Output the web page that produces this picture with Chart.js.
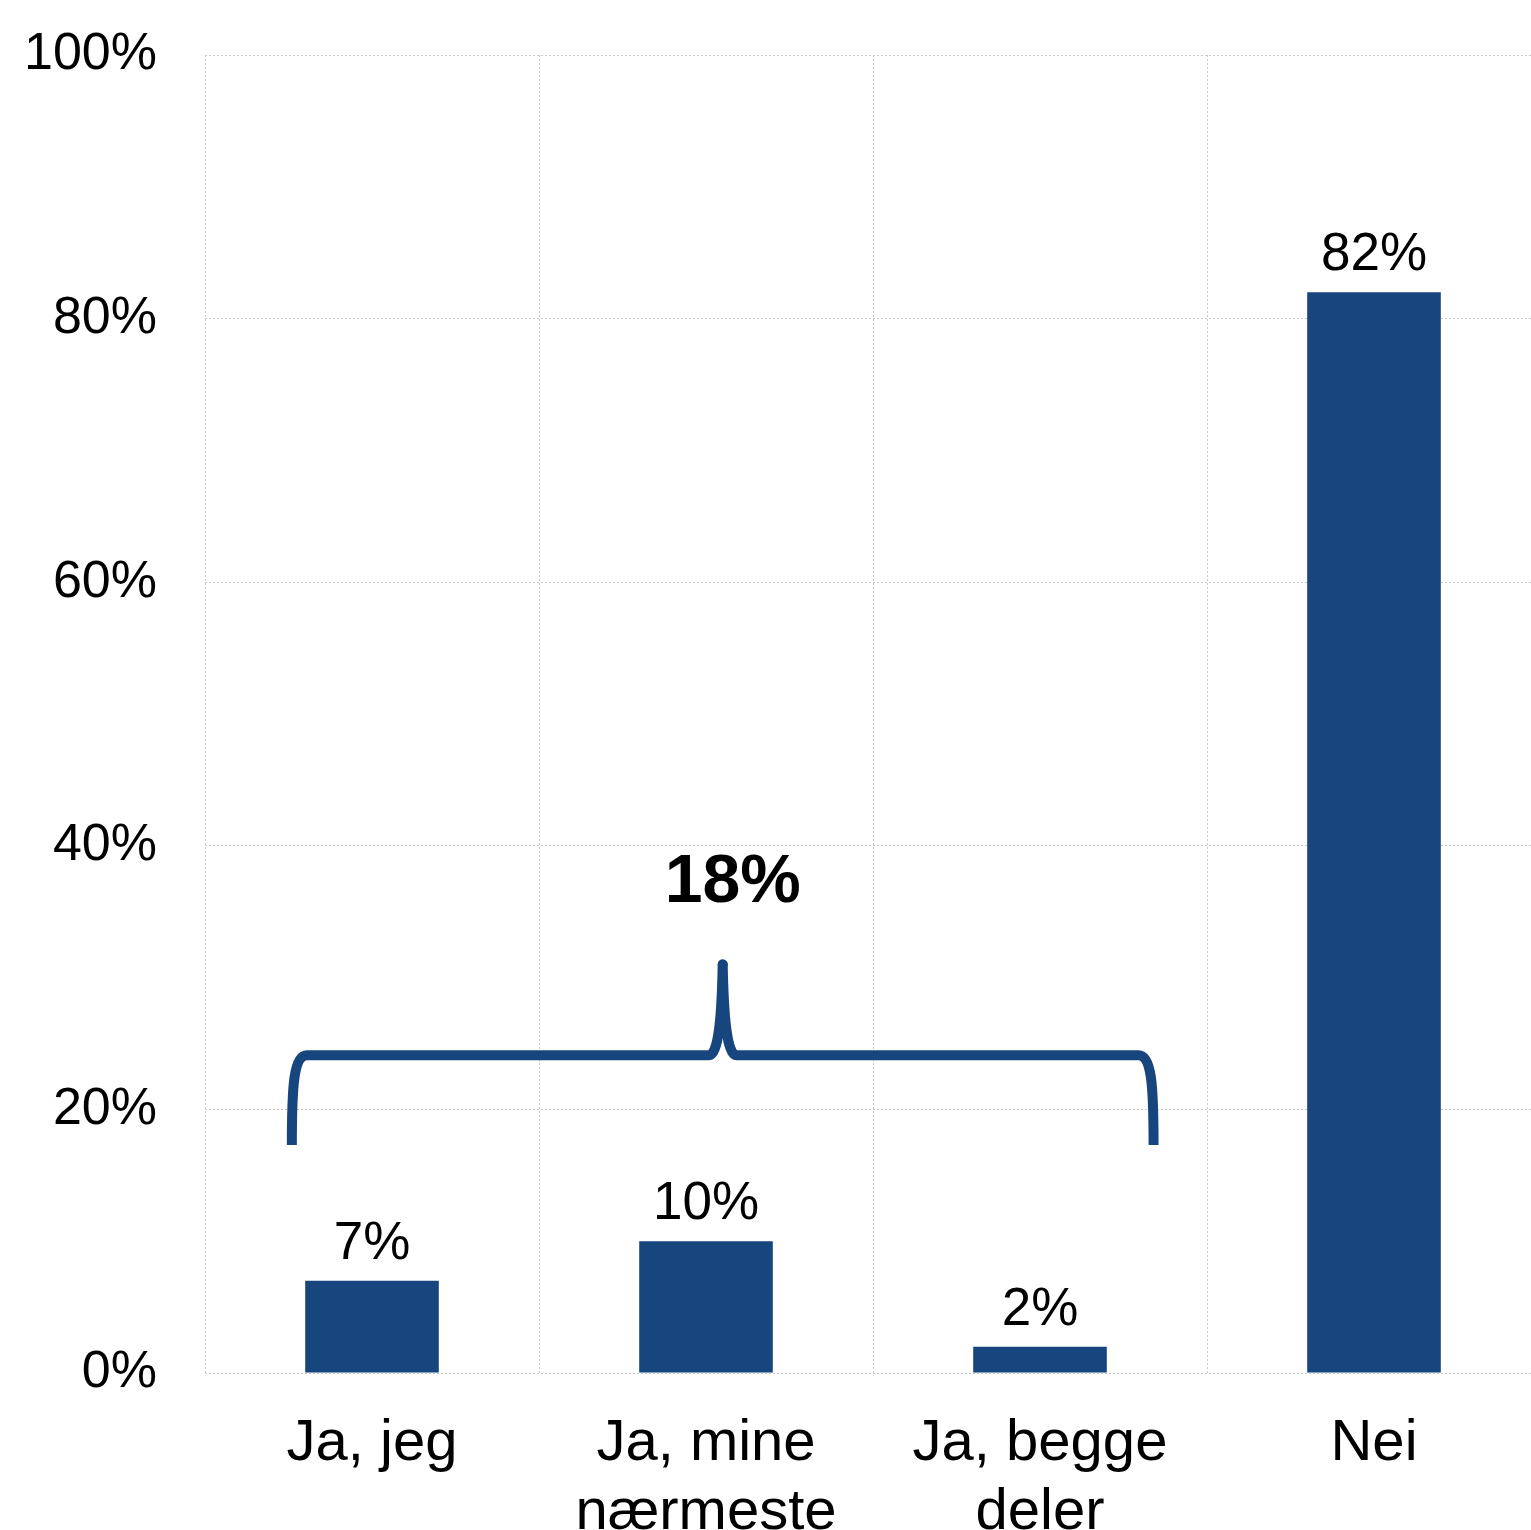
<!DOCTYPE html>
<html>
<head>
<meta charset="utf-8">
<script src="https://cdn.jsdelivr.net/npm/chart.js@4.4.1/dist/chart.umd.min.js"></script>
<style>
  html, body { margin: 0; padding: 0; background: #fff; overflow: hidden; }
  #wrap { position: relative; width: 1541px; height: 1560px; }
</style>
</head>
<body>
<div id="wrap"><canvas id="svar"></canvas></div>
<script>
const categories = [['Ja, jeg'], ['Ja, mine', 'nærmeste'], ['Ja, begge', 'deler'], ['Nei']];
const shares = [7, 10, 2, 82];
const yTicks = [0, 20, 40, 60, 80, 100];
const groupTotal = 18;          // sum of the three "Ja" answers
const groupMembers = [0, 1, 2]; // bars covered by the brace

const FONT = "'Liberation Sans', Arial, sans-serif";
const BLUE = '#17457d';

// percent labels above every bar
const barLabels = {
  id: 'barLabels',
  afterDatasetsDraw(chart) {
    const ctx = chart.ctx;
    ctx.save();
    ctx.font = `53px ${FONT}`;
    ctx.fillStyle = '#000';
    ctx.textAlign = 'center';
    ctx.textBaseline = 'alphabetic';
    chart.getDatasetMeta(0).data.forEach((bar, i) => {
      ctx.fillText(shares[i] + '%', bar.x, bar.y - 22);
    });
    ctx.restore();
  }
};

// curly brace over the "Ja" bars with the combined share
const groupBrace = {
  id: 'groupBrace',
  afterDatasetsDraw(chart) {
    const { ctx, scales: { x, y } } = chart;
    const step = x.getPixelForValue(1) - x.getPixelForValue(0);
    const first = groupMembers[0], last = groupMembers[groupMembers.length - 1];
    const left = x.getPixelForValue(first) - 0.24 * step;
    const right = x.getPixelForValue(last) + 0.34 * step;
    const mid = x.getPixelForValue(1) + 0.05 * step;
    const yEnd = y.getPixelForValue(17.3);
    const yBar = y.getPixelForValue(24.1);
    const yTip = y.getPixelForValue(31);

    ctx.save();
    ctx.strokeStyle = BLUE;
    ctx.lineWidth = 10;
    ctx.lineJoin = 'round';
    ctx.lineCap = 'butt';
    ctx.beginPath();
    ctx.moveTo(left, yEnd);
    ctx.bezierCurveTo(left, yBar + 30, left + 2, yBar, left + 15, yBar);
    ctx.lineTo(mid - 14, yBar);
    ctx.bezierCurveTo(mid - 4, yBar, mid - 1, yBar - 40, mid, yTip);
    ctx.bezierCurveTo(mid + 1, yBar - 40, mid + 4, yBar, mid + 14, yBar);
    ctx.lineTo(right - 15, yBar);
    ctx.bezierCurveTo(right - 2, yBar, right, yBar + 30, right, yEnd);
    ctx.stroke();
    // rounded tip
    ctx.fillStyle = BLUE;
    ctx.beginPath();
    ctx.arc(mid, yTip, 5, 0, Math.PI * 2);
    ctx.fill();

    ctx.font = `bold 68px ${FONT}`;
    ctx.fillStyle = '#000';
    ctx.textAlign = 'center';
    ctx.textBaseline = 'alphabetic';
    ctx.fillText(groupTotal + '%', x.getPixelForValue(1) + 0.08 * step, y.getPixelForValue(35.7));
    ctx.restore();
  }
};

new Chart(document.getElementById('svar'), {
  type: 'bar',
  data: {
    labels: categories,
    datasets: [{
      data: shares,
      backgroundColor: BLUE,
      borderWidth: 0,
      barPercentage: 0.4,
      categoryPercentage: 1
    }]
  },
  options: {
    responsive: true,
    maintainAspectRatio: false,
    animation: false,
    layout: { padding: { top: 55, left: 0, right: 0, bottom: 0 } },
    plugins: { legend: { display: false }, tooltip: { enabled: false } },
    scales: {
      x: {
        offset: true,
        grid: { offset: true, drawTicks: false, color: '#c8c8c8', lineWidth: 1 },
        border: { display: false, dash: [2, 2] },
        ticks: {
          padding: 36,
          color: '#000',
          maxRotation: 0,
          autoSkip: false,
          font: { family: FONT, size: 58, lineHeight: 1.2 }
        },
        afterFit(scale) { scale.height = 187; }
      },
      y: {
        min: yTicks[0],
        max: yTicks[yTicks.length - 1],
        afterBuildTicks(scale) { scale.ticks = yTicks.map(v => ({ value: v })); },
        grid: { drawTicks: false, color: '#c8c8c8', lineWidth: 1 },
        border: { display: false, dash: [2, 2] },
        ticks: {
          padding: 48,
          color: '#000',
          font: { family: FONT, size: 52 },
          callback: v => v + '%'
        },
        afterFit(scale) {
          scale.width = 205;
          // the top label may overflow into the page padding
          scale.paddingTop = 0;
          scale.paddingBottom = 0;
        }
      }
    }
  },
  plugins: [barLabels, groupBrace]
});
</script>
</body>
</html>
